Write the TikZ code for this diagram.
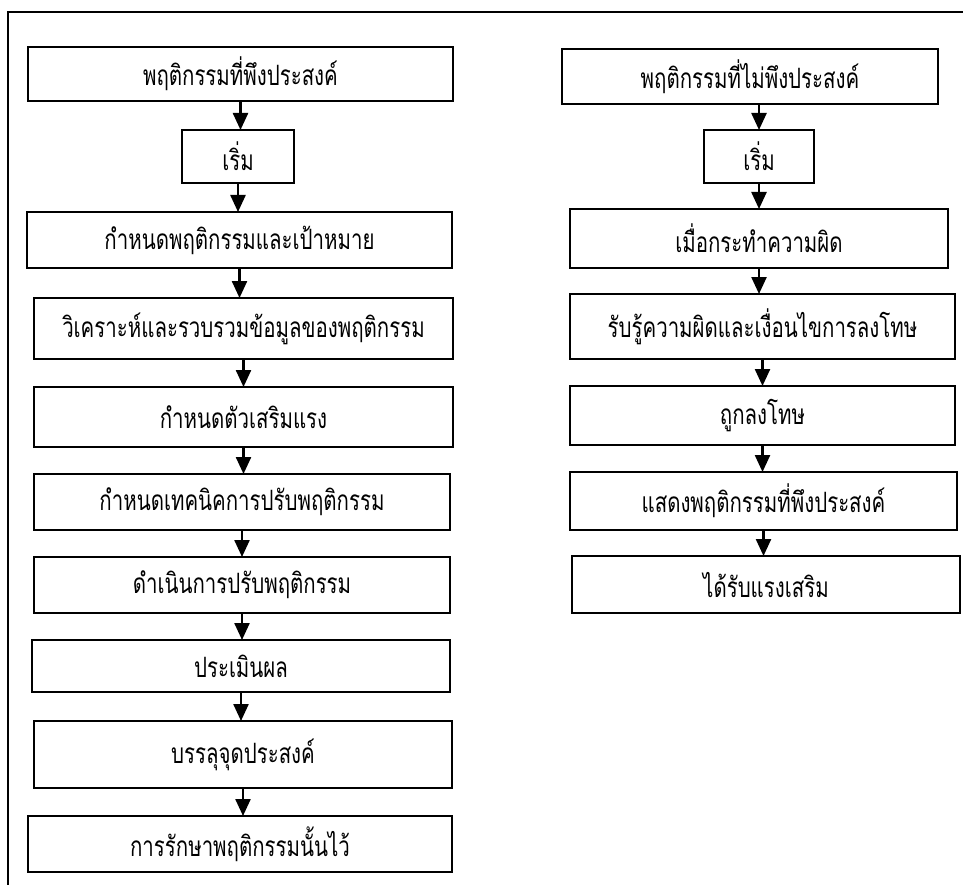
\documentclass[tikz,border=0pt]{standalone}
\usepackage{fontspec}
\newfontfamily\thaifont[Script=Thai,FakeStretch=0.73]{Loma}
\usetikzlibrary{arrows.meta}
\begin{document}
\begin{tikzpicture}[x=1pt,y=-1pt,inner sep=0pt,outer sep=0pt,
stepbox/.style={draw,rectangle,line width=1.4pt,font=\thaifont\fontsize{28}{32}\selectfont},
arr/.style={line width=2.4pt,-{Triangle[length=17pt,width=15pt]}}]
\useasboundingbox (0,0) rectangle (963,885);
\draw[line width=1.3pt] (8,885) -- (8,12) -- (963,12);
% left column
\draw (240.5,74) node[stepbox,minimum width=425pt,minimum height=54pt] (l1) {พฤติกรรมที่พึงประสงค์};
\draw (238,156.5) node[stepbox,minimum width=112pt,minimum height=53pt] (l2) {เริ่ม};
\draw (239.5,240) node[stepbox,minimum width=425pt,minimum height=56pt] (l3) {กำหนดพฤติกรรมและเป้าหมาย};
\draw (243.5,328.5) node[stepbox,minimum width=419pt,minimum height=61pt] (l4) {วิเคราะห์และรวบรวมข้อมูลของพฤติกรรม};
\draw (243.5,417) node[stepbox,minimum width=419pt,minimum height=60pt] (l5) {กำหนดตัวเสริมแรง};
\draw (242,502) node[stepbox,minimum width=416pt,minimum height=56pt] (l6) {กำหนดเทคนิคการปรับพฤติกรรม};
\draw (242,585) node[stepbox,minimum width=416pt,minimum height=56pt] (l7) {ดำเนินการปรับพฤติกรรม};
\draw (241,666) node[stepbox,minimum width=418pt,minimum height=52pt] (l8) {ประเมินผล};
\draw (243,754.5) node[stepbox,minimum width=418pt,minimum height=67pt] (l9) {บรรลุจุดประสงค์};
\draw (240,844) node[stepbox,minimum width=424pt,minimum height=56pt] (l10) {การรักษาพฤติกรรมนั้นไว้};
\draw[arr] (l1.south) -- (l1.south |- l2.north);
\draw[arr] (l2.south) -- (l2.south |- l3.north);
\draw[arr] (l3.south) -- (l3.south |- l4.north);
\draw[arr] (l4.south) -- (l4.south |- l5.north);
\draw[arr] (l5.south) -- (l5.south |- l6.north);
\draw[arr] (l6.south) -- (l6.south |- l7.north);
\draw[arr] (l7.south) -- (l7.south |- l8.north);
\draw[arr] (l8.south) -- (l8.south |- l9.north);
\draw[arr] (l9.south) -- (l9.south |- l10.north);
% right column
\draw (750,76.5) node[stepbox,minimum width=376pt,minimum height=55pt] (r1) {พฤติกรรมที่ไม่พึงประสงค์};
\draw (759,156.5) node[stepbox,minimum width=110pt,minimum height=53pt] (r2) {เริ่ม};
\draw (759,238.5) node[stepbox,minimum width=378pt,minimum height=59pt] (r3) {เมื่อกระทำความผิด};
\draw (762.5,326.5) node[stepbox,minimum width=385pt,minimum height=65pt] (r4) {รับรู้ความผิดและเงื่อนไขการลงโทษ};
\draw (762.5,415.5) node[stepbox,minimum width=385pt,minimum height=59pt] (r5) {ถูกลงโทษ};
\draw (763.5,501) node[stepbox,minimum width=387pt,minimum height=58pt] (r6) {แสดงพฤติกรรมที่พึงประสงค์};
\draw (766,584.5) node[stepbox,minimum width=388pt,minimum height=57pt] (r7) {ได้รับแรงเสริม};
\draw[arr] (r2.north |- r1.south) -- (r2.north);
\draw[arr] (r2.south) -- (r2.south |- r3.north);
\draw[arr] (r3.south) -- (r3.south |- r4.north);
\draw[arr] (r4.south) -- (r4.south |- r5.north);
\draw[arr] (r5.south) -- (r5.south |- r6.north);
\draw[arr] (r6.south) -- (r6.south |- r7.north);
\end{tikzpicture}
\end{document}
